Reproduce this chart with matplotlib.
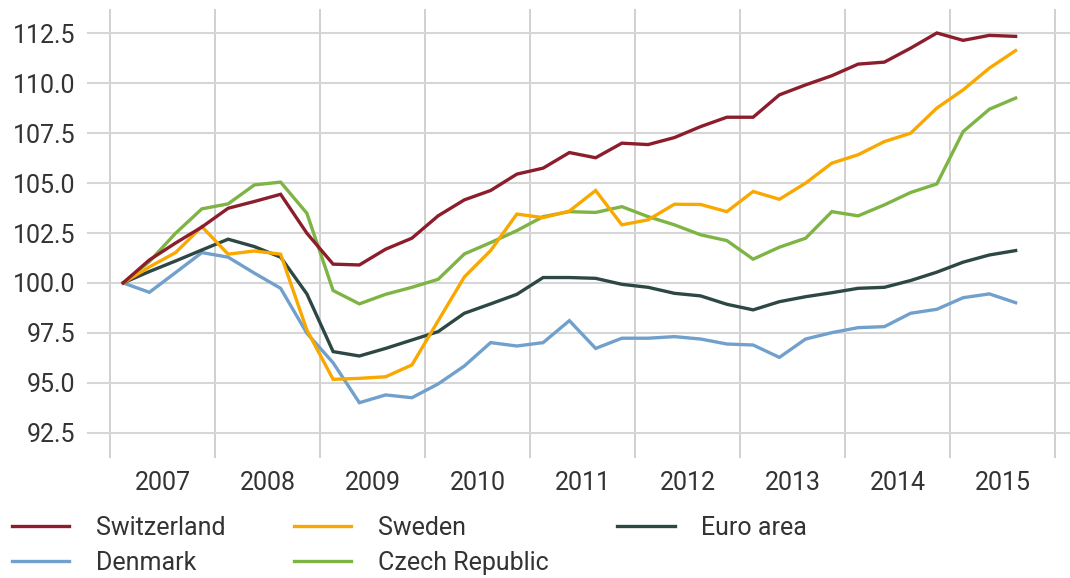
import numpy as np
from matplotlib import pyplot as plt
from matplotlib.lines import Line2D

plt.rcParams['font.family'] = ['Roboto', 'DejaVu Sans']

# quarterly index, 2007 Q1 = 100, through 2015 Q3
start_year = 2007
years = list(range(2007, 2016))

switzerland = [100.0, 101.15, 102.0, 102.8, 103.74, 104.08, 104.44, 102.49, 100.94, 100.9,
               101.69, 102.24, 103.36, 104.16, 104.63, 105.45, 105.75, 106.53, 106.27, 107.0,
               106.93, 107.28, 107.83, 108.3, 108.3, 109.42, 109.92, 110.38, 110.96, 111.06,
               111.76, 112.52, 112.15, 112.4, 112.35]
sweden = [100.0, 100.8, 101.52, 102.82, 101.44, 101.6, 101.44, 97.64, 95.17, 95.22,
          95.3, 95.89, 98.1, 100.3, 101.62, 103.45, 103.27, 103.6, 104.63, 102.91,
          103.16, 103.94, 103.93, 103.57, 104.58, 104.19, 105.0, 106.0, 106.42, 107.08,
          107.5, 108.76, 109.67, 110.76, 111.64]
euro_area = [100.0, 100.57, 101.1, 101.65, 102.19, 101.82, 101.29, 99.45, 96.56, 96.34,
             96.72, 97.14, 97.56, 98.48, 98.95, 99.43, 100.27, 100.27, 100.23, 99.93,
             99.78, 99.48, 99.35, 98.93, 98.65, 99.06, 99.31, 99.51, 99.73, 99.78,
             100.12, 100.54, 101.04, 101.4, 101.62]
denmark = [100.0, 99.53, 100.52, 101.52, 101.29, 100.49, 99.73, 97.48, 96.0, 94.0,
           94.39, 94.25, 94.94, 95.84, 97.01, 96.84, 97.01, 98.11, 96.72, 97.23,
           97.23, 97.31, 97.19, 96.94, 96.89, 96.27, 97.19, 97.51, 97.76, 97.81,
           98.48, 98.68, 99.26, 99.45, 99.01]
czech = [100.0, 101.07, 102.49, 103.71, 103.96, 104.91, 105.05, 103.49, 99.62, 98.95,
         99.43, 99.78, 100.18, 101.45, 102.02, 102.62, 103.32, 103.57, 103.53, 103.82,
         103.32, 102.91, 102.41, 102.12, 101.19, 101.79, 102.24, 103.57, 103.36, 103.91,
         104.53, 104.96, 107.58, 108.7, 109.26]

series = [
    ('Switzerland', switzerland, '#8c1d2c'),
    ('Denmark', denmark, '#71a0cc'),
    ('Sweden', sweden, '#f9a800'),
    ('Czech Republic', czech, '#7db443'),
    ('Euro area', euro_area, '#2d4844'),
]

x = start_year + (np.arange(len(switzerland)) + 0.5) / 4

fig = plt.figure(figsize=(10.7, 5.78), dpi=100)
ax = fig.add_axes([0.0813, 0.2076, 0.9187, 0.7768])

order = ['Denmark', 'Euro area', 'Czech Republic', 'Sweden', 'Switzerland']
handles = []
for name, vals, col in series:
    ax.plot(x, vals, color=col, lw=2.4, zorder=3 + order.index(name),
            solid_joinstyle='miter')
    handles.append(Line2D([], [], color=col, lw=2.4))

ax.set_xlim(start_year - 23 / 105, start_year + 960 / 105)
ax.set_ylim(91.23, 113.72)

ax.set_yticks(np.arange(92.5, 113, 2.5))
ax.set_yticklabels(['%.1f' % v for v in np.arange(92.5, 113, 2.5)])
ax.set_xticks([y + 0.5 for y in years])
ax.set_xticklabels([str(y) for y in years])
ax.set_xticks(list(range(2007, 2017)), minor=True)

ax.grid(True, axis='y', which='major', color='#d6d6d6', lw=1.5)
ax.grid(True, axis='x', which='minor', color='#d0d0d0', lw=1.4)
ax.set_axisbelow(True)
for s in ax.spines.values():
    s.set_visible(False)
ax.tick_params(axis='both', which='both', length=0, labelsize=18, labelcolor='#333333')
ax.tick_params(axis='y', pad=8.5)
ax.tick_params(axis='x', pad=9)

fig.legend(handles, [s[0] for s in series], ncol=3, loc='upper left',
           bbox_to_anchor=(0.011, 0.107), frameon=False, fontsize=18,
           labelcolor='#333333', handlelength=2.3, handletextpad=1.05,
           columnspacing=2.75, labelspacing=0.42, borderaxespad=0, borderpad=0)

fig.savefig('out.png', dpi=100)
